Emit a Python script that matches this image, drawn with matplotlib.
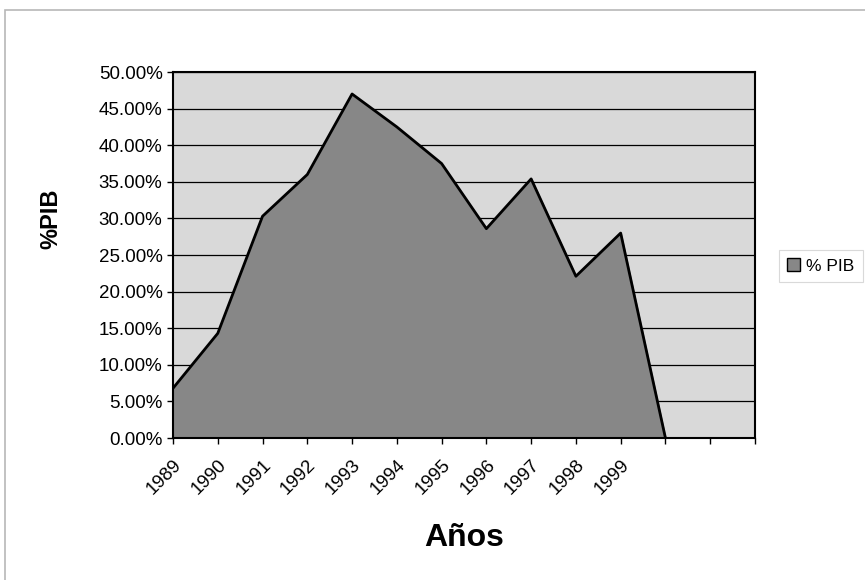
import matplotlib
matplotlib.use("Agg")
import matplotlib.pyplot as plt
from matplotlib.patches import Rectangle, Patch
from matplotlib.ticker import FuncFormatter

plt.rcParams['font.family'] = ['Liberation Sans', 'DejaVu Sans']

# categorias del eje x (las ultimas van sin etiqueta)
anios = ['1989', '1990', '1991', '1992', '1993', '1994', '1995',
         '1996', '1997', '1998', '1999', '', '', '']
# % del PIB por año; el ultimo punto cierra el area en cero
pib = [6.8, 14.3, 30.3, 36.0, 47.0, 42.5, 37.5, 28.6, 35.4, 22.1, 28.0, 0.0]

fig = plt.figure(figsize=(8.65, 5.8), dpi=100)
ax = fig.add_axes([0.2, 0.2448, 0.6728, 0.631])

# marco del area del grafico
fig.patches.append(Rectangle((5 / 865, -0.1), 1.2, 1 - 10 / 580 + 0.1,
                             transform=fig.transFigure, fill=False,
                             edgecolor='#b8b8b8', linewidth=1.2))

ax.set_facecolor('#d9d9d9')
x = list(range(len(pib)))
ax.fill_between(x, pib, 0, color='#878787', zorder=2)
ax.plot(x, pib, color='black', linewidth=2, zorder=3)

ax.set_xlim(0, len(anios) - 1)
ax.set_ylim(0, 50)
ax.set_yticks(range(0, 51, 5))
ax.yaxis.set_major_formatter(FuncFormatter(lambda v, p: f"{v:.2f}%"))
ax.grid(axis='y', color='black', linewidth=0.9, zorder=1)
ax.set_axisbelow(True)

ax.set_xticks(range(len(anios)))
ax.set_xticklabels(anios, rotation=45, ha='right', rotation_mode='anchor')
ax.tick_params(axis='both', direction='out', length=4, width=1, labelsize=13.5)
ax.tick_params(axis='x', pad=9)

for s in ax.spines.values():
    s.set_linewidth(1.5)
    s.set_zorder(4)

ax.set_xlabel('Años', fontsize=23, fontweight='bold', labelpad=18)
ax.set_ylabel('%PIB', fontsize=17, fontweight='bold')
ax.yaxis.set_label_coords(-0.19, 0.6)

leg = fig.legend(handles=[Patch(facecolor='#878787', edgecolor='black', label='% PIB')],
                 loc='center left', bbox_to_anchor=(770 / 865, 1 - 266 / 580),
                 fontsize=12.5, frameon=True, fancybox=False, handlelength=0.7,
                 handleheight=0.7, handletextpad=0.4, borderpad=0.5)
leg.get_frame().set_edgecolor('#d0d0d0')
leg.get_frame().set_linewidth(0.8)

fig.savefig('out.png', dpi=100)
